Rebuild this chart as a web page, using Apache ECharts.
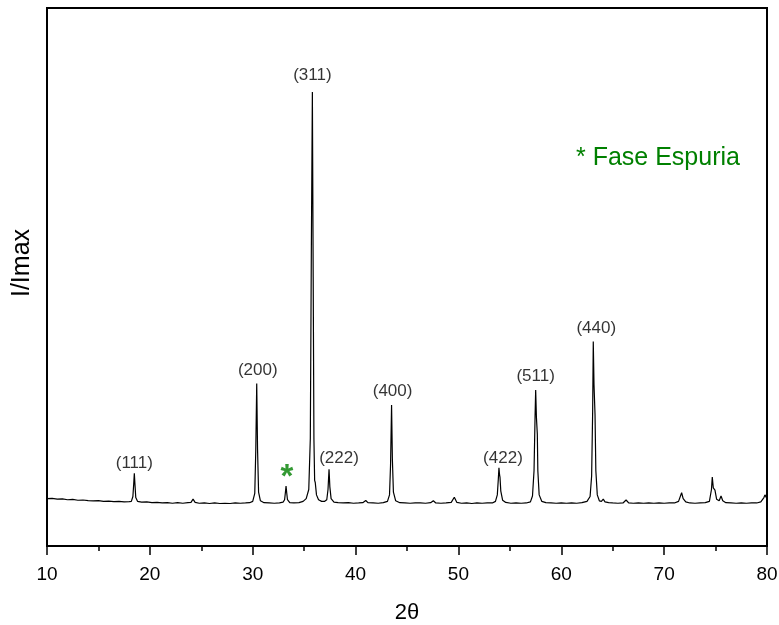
<!DOCTYPE html>
<html>
<head>
<meta charset="utf-8">
<script src="https://cdn.jsdelivr.net/npm/echarts@6/dist/echarts.min.js"></script>
<style>
  html, body { margin: 0; padding: 0; background: #fff }
  #chart { width: 779px; height: 625px }
</style>
</head>
<body>
<div id="chart"></div>
<script>
// pattern, 2theta (deg) vs relative intensity
const twoTheta = [
  10.0, 10.5, 11.0, 11.5, 12.0, 12.5, 13.0, 13.5, 14.0, 14.5, 15.0, 15.5, 16.0, 16.5, 17.0, 17.5, 18.0,
  18.2, 18.35, 18.43, 18.49, 18.55, 18.63, 18.8,
  19.2, 19.7, 20.2, 20.7, 21.2, 21.7, 22.2, 22.7, 23.2, 23.7,
  24.0, 24.2, 24.4,
  24.8, 25.3, 25.8, 26.3, 26.8, 27.3, 27.8, 28.3, 28.8, 29.3, 29.7,
  30.0, 30.2, 30.3, 30.39, 30.47, 30.57, 30.75,
  31.1, 31.6, 32.1, 32.6, 32.95,
  33.1, 33.18, 33.24, 33.3, 33.38,
  33.6, 34.0, 34.5, 34.9, 35.2, 35.45, 35.6, 35.7, 35.8, 35.88, 35.95, 36.02, 36.08, 36.2, 36.4, 36.7, 37.0,
  37.2, 37.32, 37.42, 37.5, 37.62, 37.9,
  38.3, 38.8, 39.3, 39.8, 40.3, 40.7, 40.99, 41.2, 41.7, 42.2, 42.7, 43.1,
  43.3, 43.4, 43.5, 43.58, 43.68, 43.9,
  44.3, 44.8, 45.3, 45.8, 46.3, 46.8, 47.3, 47.56, 47.8, 48.3, 48.8, 49.3, 49.6, 49.85,
  50.3, 50.8, 51.3, 51.8, 52.3, 52.8, 53.3, 53.6,
  53.78, 53.88, 53.94, 54.0, 54.04, 54.12, 54.3, 54.6,
  55.1, 55.6, 56.1, 56.6, 57.0, 57.2,
  57.35, 57.45, 57.51, 57.58, 57.67, 57.72, 57.85, 58.1, 58.5,
  59.0, 59.5, 60.0, 60.5, 61.0, 61.5, 62.0, 62.5, 62.8, 62.95,
  63.05, 63.11, 63.18, 63.28, 63.36, 63.5, 63.7, 63.9, 64.08, 64.25, 64.6,
  65.0, 65.5, 66.0, 66.3, 66.55, 67.0, 67.5, 68.0, 68.5, 69.0, 69.5, 70.0, 70.5, 71.0, 71.4,
  71.7, 71.85, 72.1, 72.5, 73.0, 73.5, 74.0, 74.4,
  74.6, 74.68, 74.78, 74.94, 75.1, 75.35, 75.53, 75.7, 76.0, 76.5, 77.0, 77.5, 78.0, 78.5, 79.0, 79.4,
  79.7, 79.8, 80.0
]
const intensity = [
  8.8, 8.85, 8.7, 8.75, 8.6, 8.65, 8.5, 8.55, 8.45, 8.4, 8.45, 8.3, 8.35, 8.25, 8.3, 8.2, 8.25,
  8.3, 9.2, 11.5, 13.5, 11.5, 9.0, 8.3,
  8.15, 8.2, 8.05, 8.1, 8.0, 8.05, 7.95, 8.05, 7.95, 8.05,
  8.1, 8.7, 8.1,
  7.95, 8.0, 7.9, 8.0, 7.9, 7.95, 7.9, 8.0, 7.95, 8.0, 8.05,
  8.3, 9.8, 18.0, 30.2, 18.0, 10.0, 8.4,
  8.05, 8.0, 7.95, 8.0, 8.15,
  8.6, 10.0, 11.15, 10.0, 8.6,
  8.05, 8.0, 8.05, 8.3, 8.8, 10.5, 20.0, 55.0, 84.4, 50.0, 20.0, 12.2, 11.8, 9.5, 8.6, 8.3, 8.3,
  8.6, 10.5, 14.25, 11.0, 8.8, 8.15,
  8.05, 8.0, 8.05, 7.95, 8.0, 8.05, 8.45, 8.05, 8.0, 7.95, 8.05, 8.3,
  9.5, 15.0, 26.2, 16.0, 10.0, 8.4,
  8.05, 8.0, 7.95, 8.0, 8.0, 7.95, 8.05, 8.4, 8.0, 7.95, 8.0, 8.1, 9.05, 8.1,
  7.95, 8.0, 7.9, 8.0, 7.95, 8.0, 8.0, 8.3,
  9.5, 12.5, 14.55, 13.2, 12.8, 10.2, 8.5, 8.1,
  7.95, 8.0, 7.95, 8.0, 8.2, 9.3,
  14.0, 24.0, 29.0, 24.0, 20.8, 14.0, 9.5, 8.3, 8.05,
  8.0, 7.95, 8.0, 7.95, 8.0, 7.95, 8.05, 8.3, 9.2, 13.0,
  25.0, 38.0, 30.0, 24.5, 14.0, 9.5, 8.4, 8.3, 8.7, 8.2, 8.05,
  8.0, 7.95, 8.0, 8.55, 8.0, 7.95, 8.0, 7.95, 8.0, 7.95, 8.0, 7.95, 8.0, 8.0, 8.3,
  9.9, 8.8, 8.2, 8.0, 7.95, 8.0, 8.05, 8.3,
  10.5, 12.8, 10.8, 10.4, 8.7, 8.4, 9.3, 8.4, 8.05, 8.0, 7.95, 8.0, 7.95, 8.0, 8.0, 8.2,
  9.0, 9.5, 8.8
]

// indexed reflections
const peakPos = [18.49, 30.39, 35.8, 37.42, 43.5, 53.94, 57.51, 63.11]
const peakTop = [13.5, 30.2, 84.4, 14.25, 26.2, 14.55, 29.0, 38.0]
const peakHkl = ['(111)', '(200)', '(311)', '(222)', '(400)', '(422)', '(511)', '(440)']

// spurious phase reflection
const spuriousPos = [33.24]
const spuriousTop = [11.15]
const spuriousNote = '* Fase Espuria'

const xTicks = [10, 20, 30, 40, 50, 60, 70, 80]

// small nudges so labels sit like in the original figure
const labelShift = [[0, 2], [1, -1], [0, -4], [10, 1], [1, -1], [4, 3], [0, -1], [3, -1]]

const FONT = 'Arial, "Liberation Sans", sans-serif'
const GREEN = '#008000'

const chart = echarts.init(document.getElementById('chart'), null, { renderer: 'canvas' })

const option = {
  animation: false,
  backgroundColor: '#fff',
  grid: {
    left: 47, right: 12, top: 8, bottom: 79,
    outerBoundsMode: 'none',
    show: true, borderColor: '#000', borderWidth: 2
  },
  xAxis: {
    type: 'value',
    min: xTicks[0],
    max: xTicks[xTicks.length - 1],
    interval: 10,
    name: '2θ',
    nameLocation: 'middle',
    nameGap: 56,
    nameTextStyle: { fontFamily: FONT, fontSize: 22, color: '#000' },
    axisLine: { lineStyle: { color: '#000', width: 2 } },
    axisTick: { length: 9, lineStyle: { color: '#000', width: 1.5 } },
    minorTick: { show: true, splitNumber: 2, length: 5, lineStyle: { color: '#000', width: 1.5 } },
    axisLabel: { fontFamily: FONT, fontSize: 19, color: '#000', margin: 19 },
    splitLine: { show: false }
  },
  yAxis: {
    type: 'value',
    min: 0,
    max: 100,
    name: 'I/Imax',
    nameLocation: 'middle',
    nameGap: 12,
    nameRotate: 90,
    nameTextStyle: { fontFamily: FONT, fontSize: 25, color: '#000', padding: [0, 0, 0, 28] },
    axisLine: { show: true, lineStyle: { color: '#000', width: 2 } },
    axisTick: { show: false },
    axisLabel: { show: false },
    splitLine: { show: false }
  },
  series: [
    {
      type: 'line',
      data: twoTheta.map((t, i) => [t, intensity[i]]),
      showSymbol: false,
      lineStyle: { color: '#000', width: 1.2 },
      silent: true
    },
    {
      type: 'scatter',
      symbolSize: 0,
      data: peakPos.map((p, i) => ({
        value: [p, peakTop[i]],
        label: { offset: labelShift[i] }
      })),
      label: {
        show: true,
        position: 'top',
        distance: 4,
        formatter: p => peakHkl[p.dataIndex],
        fontFamily: FONT,
        fontSize: 17,
        color: '#000'
      },
      silent: true
    },
    {
      type: 'scatter',
      symbolSize: 0,
      data: spuriousPos.map((p, i) => [p, spuriousTop[i]]),
      label: {
        show: true,
        position: 'top',
        distance: 0,
        offset: [1, 8],
        formatter: '*',
        fontFamily: FONT,
        fontSize: 33,
        fontWeight: 'bold',
        color: GREEN
      },
      silent: true
    }
  ],
  graphic: [
    {
      type: 'text',
      left: 576,
      top: 146,
      style: { text: spuriousNote, fontFamily: FONT, fontSize: 25, fill: GREEN }
    }
  ]
}

chart.setOption(option)
</script>
</body>
</html>
